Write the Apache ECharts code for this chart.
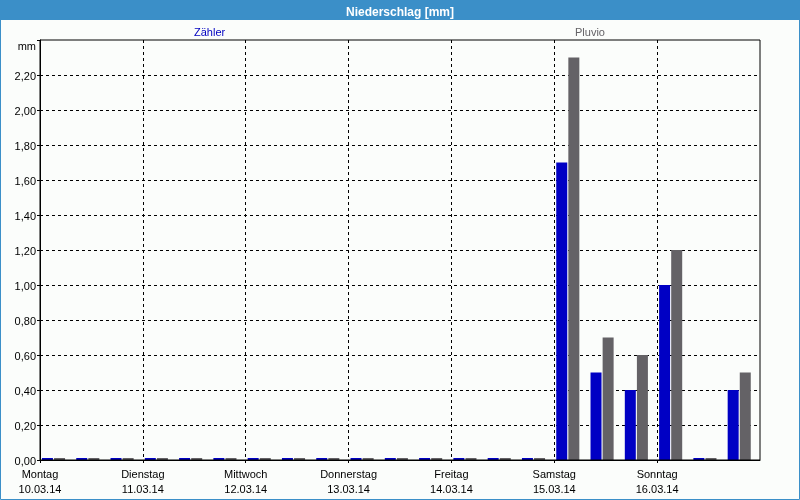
<!DOCTYPE html>
<html>
<head>
<meta charset="utf-8">
<script src="https://cdn.jsdelivr.net/npm/echarts@6/dist/echarts.min.js"></script>
<style>
html,body{margin:0;padding:0;background:#fbfdfb;}
#c{width:800px;height:500px;}
</style>
</head>
<body>
<div id="c"></div>
<script>
var days = ['Montag','Dienstag','Mittwoch','Donnerstag','Freitag','Samstag','Sonntag'];
var dates = ['10.03.14','11.03.14','12.03.14','13.03.14','14.03.14','15.03.14','16.03.14'];
var slots = ['00:00','08:00','16:00'];
var categories = [];
dates.forEach(function(d){ slots.forEach(function(s){ categories.push(d + ' ' + s); }); });
var zaehler = [0,0,0, 0,0,0, 0,0,0, 0,0,0, 0,0,0, 1.70,0.50,0.40, 1.00,0,0.40];
var pluvio  = [0,0,0, 0,0,0, 0,0,0, 0,0,0, 0,0,0, 2.30,0.70,0.60, 1.20,0,0.50];
var yMax = 2.4, yStep = 0.2;

var FONT = 'Liberation Sans';
var chart = echarts.init(document.getElementById('c'), null, {renderer:'canvas'});
var bandShift = 3.64;
chart.setOption({
  backgroundColor: '#fbfdfb',
  animation: false,
  textStyle: {fontFamily: FONT, fontSize: 11},
  title: {
    text: 'Niederschlag [mm]', left: 'center', top: 2, z: 10,
    textStyle: {color: '#ffffff', fontSize: 12, fontWeight: 'bold', fontFamily: FONT}
  },
  graphic: [
    {type: 'rect', z: 1, shape: {x: 0, y: 0, width: 800, height: 20}, style: {fill: '#3b8fc8'}},
    {type: 'rect', z: 1, shape: {x: 0.5, y: 0.5, width: 799, height: 499}, style: {fill: null, stroke: '#3b8fc8', lineWidth: 1}}
  ],
  legend: [
    {data: [{name: 'Zähler'}], left: 184, top: 22, icon: 'none', itemWidth: 0, itemHeight: 0, selectedMode: false,
     textStyle: {color: '#0000c0', fontFamily: FONT, fontSize: 11, padding: 0}},
    {data: [{name: 'Pluvio'}], left: 565, top: 22, icon: 'none', itemWidth: 0, itemHeight: 0, selectedMode: false,
     textStyle: {color: '#646266', fontFamily: FONT, fontSize: 11, padding: 0}}
  ],
  grid: [
    {left: 40, right: 40, top: 40, bottom: 40, show: true, borderColor: '#000', borderWidth: 1, backgroundColor: 'transparent', z: 3},
    {left: 40 - bandShift, right: 40 + bandShift, top: 40, bottom: 40, show: false}
  ],
  xAxis: [
    {type: 'value', gridIndex: 0, min: 0, max: categories.length, interval: slots.length,
     axisLine: {show: true, lineStyle: {color: '#000', width: 1}},
     axisTick: {show: true, length: 3, lineStyle: {color: '#000', type: [3,3]}},
     splitLine: {show: true, showMinLine: false, showMaxLine: false, lineStyle: {color: '#000', type: [3,3], width: 1}},
     axisLabel: {margin: 7, color: '#000', fontFamily: FONT, fontSize: 11, lineHeight: 15, showMaxLabel: false,
       formatter: function(v){ var i = Math.round(v / slots.length); return i < days.length ? days[i] + '\n' + dates[i] : ''; }}
    },
    {type: 'category', gridIndex: 1, data: categories, show: false, boundaryGap: true}
  ],
  yAxis: [
    {type: 'value', gridIndex: 0, min: 0, max: yMax, interval: yStep,
     axisLine: {show: true, lineStyle: {color: '#000'}},
     axisTick: {show: true, length: 3, lineStyle: {color: '#000'}},
     splitLine: {show: true, showMinLine: false, showMaxLine: false, lineStyle: {color: '#000', type: [3,3], width: 1}},
     axisLabel: {margin: 4, color: '#000', fontFamily: FONT, fontSize: 11, showMaxLabel: true, padding: [3, 0, 0, 0],
       rich: {mm: {padding: [10, 0, 0, 0], fontFamily: FONT, fontSize: 11, color: '#000'}},
       formatter: function(v){ return Math.abs(v - yMax) < 1e-9 ? '{mm|mm}' : v.toFixed(2).replace('.', ','); }}
    },
    {type: 'value', gridIndex: 1, min: 0, max: yMax, interval: yStep, show: false, splitLine: {show: false}}
  ],
  series: [
    {name: 'Zähler', type: 'bar', xAxisIndex: 1, yAxisIndex: 1, data: zaehler, barWidth: 11, barGap: '10%', barMinHeight: 2,
     itemStyle: {color: '#0000c4'}, z: 2},
    {name: 'Pluvio', type: 'bar', xAxisIndex: 1, yAxisIndex: 1, data: pluvio, barWidth: 11, barGap: '10%', barMinHeight: 2,
     itemStyle: {color: '#646266'}, z: 2}
  ]
});
</script>
</body>
</html>
